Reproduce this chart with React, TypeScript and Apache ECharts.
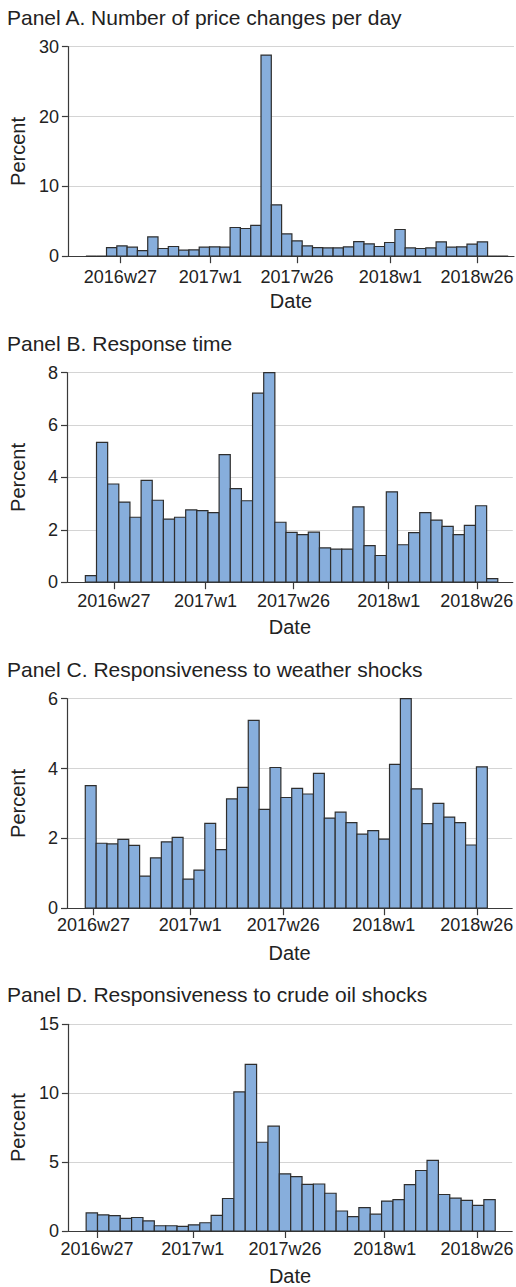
import React, { useEffect, useRef } from "react";
import * as echarts from "echarts";

// Week index: 2016w27 = 0
const tickWeeks = [0, 26, 51, 78, 103];
const tickLabels = ["2016w27", "2017w1", "2017w26", "2018w1", "2018w26"];

const titles = [
  "Panel A. Number of price changes per day",
  "Panel B. Response time",
  "Panel C. Responsiveness to weather shocks",
  "Panel D. Responsiveness to crude oil shocks",
];

const valuesA = [
  0, 0, 1.24, 1.48, 1.29, 0.81, 2.77, 1.1, 1.39, 0.86, 0.91, 1.29, 1.34, 1.29,
  4.11, 3.97, 4.4, 28.8, 7.36, 3.2, 2.2, 1.48, 1.24, 1.19, 1.19, 1.34, 2.1,
  1.77, 1.39, 1.96, 3.82, 1.19, 1.1, 1.19, 2.05, 1.29, 1.34, 1.72, 2.05, 0, 0,
];
const valuesB = [
  0.25, 5.34, 3.75, 3.06, 2.48, 3.89, 3.13, 2.41, 2.48, 2.76, 2.73, 2.66, 4.87,
  3.57, 3.11, 7.22, 8.0, 2.29, 1.9, 1.82, 1.91, 1.31, 1.26, 1.26, 2.88, 1.4,
  1.02, 3.45, 1.43, 1.89, 2.66, 2.37, 2.13, 1.82, 2.17, 2.92, 0.14,
];
const valuesC = [
  3.51, 1.86, 1.84, 1.97, 1.8, 0.92, 1.44, 1.9, 2.03, 0.83, 1.09, 2.43, 1.68,
  3.13, 3.46, 5.38, 2.83, 4.03, 3.17, 3.43, 3.27, 3.86, 2.58, 2.75, 2.45, 2.12,
  2.22, 1.98, 4.12, 6.0, 3.42, 2.42, 3.0, 2.61, 2.45, 1.81, 4.05,
];
const valuesD = [
  1.31, 1.17, 1.12, 0.91, 0.98, 0.74, 0.38, 0.38, 0.33, 0.45, 0.6, 1.14, 2.36,
  10.09, 12.09, 6.44, 7.61, 4.15, 3.94, 3.39, 3.41, 2.74, 1.45, 1.05, 1.69,
  1.22, 2.17, 2.27, 3.36, 4.39, 5.13, 2.65, 2.38, 2.22, 1.86, 2.27,
];

// bin start (week index) and bin width (weeks) for each panel
const binStarts = [-9.95, -8.09, -2.19, -2.92];
const binWidths = [2.975, 3.163, 2.919, 3.08];
const xMins = [-15.15, -13.3, -7.1, -7.86];
const xMaxs = [113.7, 113.2, 112.5, 112.56];
const yMaxs = [30, 8, 6, 15];
const yIntervals = [10, 2, 2, 5];
const allValues = [valuesA, valuesB, valuesC, valuesD];

const FONT = "'Liberation Sans', Arial, Helvetica, sans-serif";
const TEXT = "#222222";

export default function App() {
  const ref = useRef<HTMLDivElement>(null);
  useEffect(() => {
    if (!ref.current) return;
    const chart = echarts.init(ref.current, undefined, { renderer: "svg" });
    const gridTops = [46.7, 372.7, 698.7, 1024.3];
    const gridH = 209.5;
    const labelMargins = [12, 10, 7.5, 9];
    const grids: any[] = [];
    const xAxes: any[] = [];
    const yAxes: any[] = [];
    const series: any[] = [];
    const titleOpts: any[] = [];
    for (let p = 0; p < 4; p++) {
      grids.push({ left: 62.3, right: 0, top: gridTops[p], height: gridH });
      titleOpts.push({
        text: titles[p],
        left: 7,
        top: gridTops[p] - 40,
        padding: 0,
        textStyle: { fontFamily: FONT, fontSize: 21, fontWeight: "normal", color: TEXT },
      });
      xAxes.push({
        type: "value",
        gridIndex: p,
        min: xMins[p],
        max: xMaxs[p],
        name: "Date",
        nameLocation: "middle",
        nameGap: 35,
        nameTextStyle: { fontFamily: FONT, fontSize: 20, color: TEXT },
        axisLine: { show: true, onZero: false, lineStyle: { color: "#3a3a3a", width: 1.2 } },
        axisTick: {
          show: true,
          customValues: tickWeeks,
          length: 7,
          lineStyle: { color: "#3a3a3a", width: 1.2 },
        },
        axisLabel: {
          customValues: tickWeeks,
          margin: labelMargins[p],
          fontFamily: FONT,
          fontSize: 18,
          color: TEXT,
          formatter: (v: number) => {
            const i = tickWeeks.indexOf(Math.round(v));
            return i >= 0 ? tickLabels[i] : "";
          },
        },
        splitLine: { show: false },
      });
      yAxes.push({
        type: "value",
        gridIndex: p,
        min: 0,
        max: yMaxs[p],
        interval: yIntervals[p],
        name: "Percent",
        nameLocation: "middle",
        nameGap: 39,
        nameTextStyle: { fontFamily: FONT, fontSize: 20, color: TEXT },
        axisLine: { show: true, onZero: false, lineStyle: { color: "#3a3a3a", width: 1.2 } },
        axisTick: { show: true, length: 6, lineStyle: { color: "#3a3a3a", width: 1.2 } },
        axisLabel: { margin: 9, fontFamily: FONT, fontSize: 18, color: TEXT },
        splitLine: { show: true, lineStyle: { color: "#d4d4d4", width: 1 } },
      });
      const vals = allValues[p];
      const data = vals.map((v, i) => [
        binStarts[p] + i * binWidths[p],
        binStarts[p] + (i + 1) * binWidths[p],
        v,
      ]);
      series.push({
        type: "custom",
        xAxisIndex: p,
        yAxisIndex: p,
        data,
        encode: { x: [0, 1], y: 2 },
        renderItem: (params: any, api: any) => {
          const p0 = api.coord([api.value(0), api.value(2)]);
          const p1 = api.coord([api.value(1), 0]);
          return {
            type: "rect",
            shape: { x: p0[0], y: p0[1], width: p1[0] - p0[0], height: p1[1] - p0[1] },
            style: { fill: "#87aedc", stroke: "#2e2e2e", lineWidth: 1.2 },
          };
        },
      });
    }
    chart.setOption({
      animation: false,
      backgroundColor: "#ffffff",
      title: titleOpts,
      grid: grids,
      xAxis: xAxes,
      yAxis: yAxes,
      series,
    });
    return () => chart.dispose();
  }, []);
  return (
    <div
      ref={ref}
      style={{ position: "absolute", left: 0, top: 0, width: 516, height: 1287 }}
    />
  );
}
